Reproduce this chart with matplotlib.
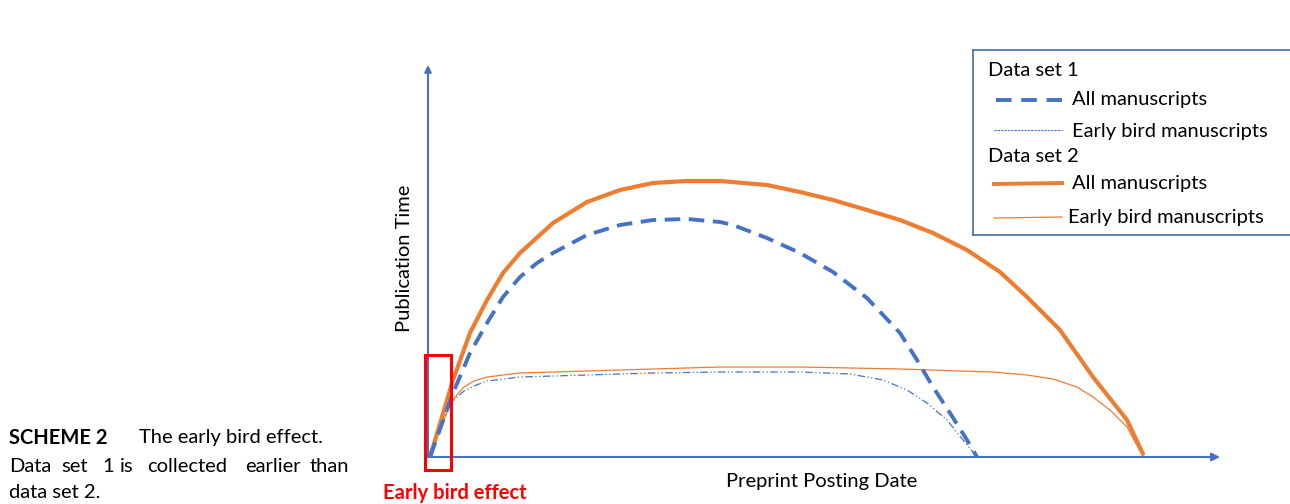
import matplotlib.pyplot as plt
from matplotlib.patches import Rectangle

plt.rcParams['font.family'] = ['Lato', 'DejaVu Sans']

BLUE = '#4472C4'
ORANGE = '#ED7D31'
RED = '#FF0000'

# curve values in chart units (origin = axis corner, x right, y up)
ds2_all_x = [2, 25, 42, 59, 75, 92, 125, 159, 192, 225, 259, 292, 339, 372, 405,
             439, 472, 505, 539, 572, 599, 632, 665, 699, 715]
ds2_all_y = [0, 77, 124, 157, 184, 204, 234, 255, 267, 274, 276, 276, 272, 265, 257,
             247, 237, 224, 207, 185, 160, 127, 80, 37, 3]

ds1_all_x = [2, 25, 42, 59, 75, 92, 109, 125, 159, 192, 225, 259, 292, 305, 339, 372,
             405, 439, 472, 489, 505, 522, 539, 549]
ds1_all_y = [0, 64, 104, 134, 160, 180, 194, 204, 222, 232, 237, 238, 235, 232, 219, 204,
             185, 159, 124, 97, 70, 44, 17, 0]

ds2_early_x = [0, 12, 22, 28, 36, 46, 59, 92, 159, 225, 292, 372, 472, 532, 565, 599,
               625, 649, 665, 682, 699, 712]
ds2_early_y = [0, 28, 52, 61, 70, 76, 80, 84, 86, 88, 90, 90, 88, 86, 85, 82,
               78, 70, 60, 47, 30, 6]

ds1_early_x = [0, 12, 22, 28, 36, 46, 59, 92, 159, 225, 292, 372, 422, 455, 479, 499,
               519, 535, 549]
ds1_early_y = [0, 28, 52, 59, 66, 71, 76, 80, 82, 84, 85, 85, 83, 77, 67, 54,
               37, 17, 0]

W, H = 1290, 504
fig = plt.figure(figsize=(W / 100, H / 100), dpi=100)

# main chart area
ox, oy = 428, 457
xend, ytop = 1220, 65
ax = fig.add_axes([ox / W, (H - oy) / H, (xend - ox) / W, (oy - ytop) / H])
ax.set_xlim(0, xend - ox)
ax.set_ylim(0, oy - ytop)
ax.axis('off')

ax.plot(ds2_early_x, ds2_early_y, color=ORANGE, lw=0.9, zorder=2)
ax.plot(ds1_early_x, ds1_early_y, color=BLUE, lw=0.9, dashes=(6, 2, 1, 2, 1, 2), zorder=2)
ax.plot(ds2_all_x, ds2_all_y, color=ORANGE, lw=3, solid_capstyle='round',
        solid_joinstyle='round', zorder=3)
ax.plot(ds1_all_x, ds1_all_y, color=BLUE, lw=2.8, dashes=(4, 2.2), zorder=3)

# axes with arrows
ax.annotate('', xy=(1, 0), xytext=(0, 0), xycoords='axes fraction',
            arrowprops=dict(arrowstyle='-|>', color=BLUE, lw=1.5, mutation_scale=12,
                            shrinkA=0, shrinkB=0))
ax.annotate('', xy=(0, 1), xytext=(0, 0), xycoords='axes fraction',
            arrowprops=dict(arrowstyle='-|>', color=BLUE, lw=1.5, mutation_scale=10,
                            shrinkA=0, shrinkB=0))

# early bird box
ax.add_patch(Rectangle((-3, -13), 26, 115, fill=False, edgecolor=RED, lw=2.2,
                       clip_on=False, zorder=4))

def ftext(x, y, s, **kw):
    fig.text(x / W, 1 - y / H, s, **kw)

FS = 14.5
ftext(405, 258, 'Publication Time', rotation=90, ha='center', va='center', fontsize=FS)
ftext(822, 482, 'Preprint Posting Date', ha='center', va='center', fontsize=FS)
ftext(455, 493, 'Early bird effect', ha='center', va='center', fontsize=FS,
      color=RED, fontweight='bold')

# legend box
lx0, ly0, ly1 = 973, 50, 235
lg = fig.add_axes([lx0 / W, (H - ly1) / H, (W + 5 - lx0) / W, (ly1 - ly0) / H])
lg.set_xlim(lx0, W + 5)
lg.set_ylim(ly1, ly0)
lg.set_xticks([])
lg.set_yticks([])
for sp in lg.spines.values():
    sp.set_color('#41719C')
    sp.set_linewidth(1.2)

lg.text(988, 70, 'Data set 1', va='center', fontsize=FS)
lg.plot([996, 1062], [100, 100], color=BLUE, lw=2.8, dashes=(4, 2.5))
lg.text(1072, 99, 'All manuscripts', va='center', fontsize=FS)
lg.plot([994, 1062], [130, 130], color=BLUE, lw=0.8, dashes=(2, 1))
lg.text(1072, 131, 'Early bird manuscripts', va='center', fontsize=FS)
lg.text(988, 156, 'Data set 2', va='center', fontsize=FS)
lg.plot([994, 1062], [184, 183], color=ORANGE, lw=2.8)
lg.text(1072, 183, 'All manuscripts', va='center', fontsize=FS)
lg.plot([994, 1062], [218, 217], color=ORANGE, lw=0.9)
lg.text(1068, 217, 'Early bird manuscripts', va='center', fontsize=FS)

# caption
ftext(9, 438, 'SCHEME 2', va='center', fontsize=FS, fontweight='bold')
ftext(139, 438, 'The early bird effect.', va='center', fontsize=FS)
words = ['Data', 'set', '1', 'is', 'collected', 'earlier', 'than']
word_x = [9, 61, 102, 120, 147, 245, 310]
for wd, wx in zip(words, word_x):
    ftext(wx, 467, wd, va='center', fontsize=FS)
ftext(9, 493, 'data set 2.', va='center', fontsize=FS)

fig.savefig('out.png', dpi=100)
